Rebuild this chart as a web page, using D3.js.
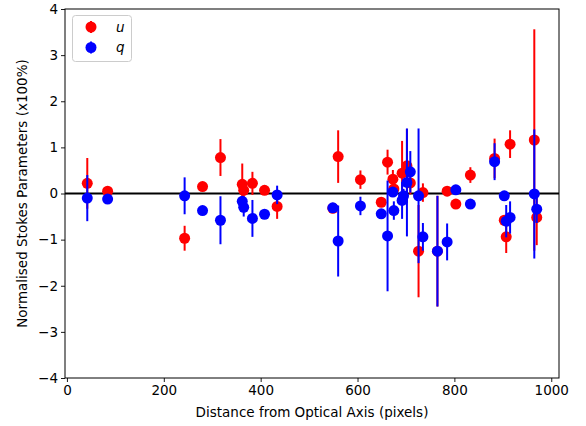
<!DOCTYPE html>
<html><head><meta charset="utf-8">
<script src="https://cdn.jsdelivr.net/npm/d3@7"></script>
<style>body{margin:0;background:#fff}svg{display:block}text{font-family:"DejaVu Sans",sans-serif}</style>
</head><body><svg id="c" width="586" height="426"></svg>
<script>
const distU = [42,84,243,280,317,362,365,383,408,434,549,560,606,649,662,673,675,692,702,709,726,735,765,785,803,833,883,903,907,915,965,970];
const uVals = [0.22,0.05,-0.97,0.15,0.78,0.2,0.07,0.22,0.07,-0.28,-0.32,0.8,0.3,-0.19,0.68,0.31,0.1,0.44,0.6,0.23,-1.25,0.02,-1.25,0.05,-0.23,0.4,0.76,-0.58,-0.94,1.07,1.16,-0.52];
const uErr = [0.55,0.05,0.27,0.05,0.4,0.45,0.2,0.25,0.05,0.27,0.1,0.57,0.2,0.05,0.27,0.2,0.1,0.7,0.8,0.25,1.0,0.2,1.2,0.05,0.05,0.17,0.43,0.1,0.35,0.3,2.4,0.6];
const distQ = [42,84,243,280,317,362,365,383,408,434,549,560,606,649,662,673,675,692,695,702,709,726,735,765,785,803,833,883,903,907,915,965,970];
const qVals = [-0.1,-0.12,-0.05,-0.37,-0.58,-0.17,-0.3,-0.54,-0.45,-0.03,-0.31,-1.03,-0.27,-0.44,-0.92,0.03,-0.37,-0.15,-0.05,0.24,0.47,-0.05,-0.94,-1.25,-1.05,0.08,-0.23,0.69,-0.05,-0.6,-0.52,-0.01,-0.34];
const qErr = [0.5,0.05,0.4,0.05,0.52,0.1,0.2,0.4,0.05,0.2,0.1,0.77,0.2,0.05,1.2,0.1,0.2,0.4,0.15,1.17,0.45,1.46,0.3,1.2,0.4,0.05,0.05,0.4,0.1,0.35,0.35,1.4,0.3];
const xTicks = [0,200,400,600,800,1000];
const yTicks = [-4,-3,-2,-1,0,1,2,3,4];
const seriesNames = ["u","q"];
const seriesColors = ["#ff0000","#0000ff"];

const svg = d3.select("#c");
const L=65, R=559, T=9, B=378;
const FS = 13.5;
const x = d3.scaleLinear().domain([-4,1016]).range([L,R]);
const y = d3.scaleLinear().domain([-4,4]).range([B,T]);

const fmt = d => d<0 ? "\u2212"+Math.abs(d) : String(d);
const xa = svg.append("g").attr("transform",`translate(0,${B})`)
  .call(d3.axisBottom(x).tickValues(xTicks).tickSize(4).tickPadding(3).tickFormat(fmt));
const ya = svg.append("g").attr("transform",`translate(${L},0)`)
  .call(d3.axisLeft(y).tickValues(yTicks).tickSize(4).tickPadding(3).tickFormat(fmt));
[xa,ya].forEach(a=>{a.select(".domain").remove();a.selectAll("text").attr("font-size",FS).attr("fill","#000").attr("font-family","DejaVu Sans");a.selectAll("line").attr("stroke","#000").attr("stroke-width",0.9);});

// zero line
svg.append("line").attr("x1",L).attr("x2",R).attr("y1",y(0)).attr("y2",y(0)).attr("stroke","#000").attr("stroke-width",1.8);

const series = [
  {d:distU,v:uVals,e:uErr,c:seriesColors[0]},
  {d:distQ,v:qVals,e:qErr,c:seriesColors[1]}
];
series.forEach(s=>{
  const g = svg.append("g");
  const data = s.d.map((d,i)=>({x:d,v:s.v[i],e:s.e[i]}));
  g.selectAll("line").data(data).join("line")
    .attr("x1",d=>x(d.x)).attr("x2",d=>x(d.x))
    .attr("y1",d=>y(d.v-d.e)).attr("y2",d=>y(d.v+d.e))
    .attr("stroke",s.c).attr("stroke-width",2);
  g.selectAll("circle").data(data).join("circle")
    .attr("cx",d=>x(d.x)).attr("cy",d=>y(d.v)).attr("r",5.5).attr("fill",s.c);
});

// frame
svg.append("rect").attr("x",L).attr("y",T).attr("width",R-L).attr("height",B-T)
  .attr("fill","none").attr("stroke","#000").attr("stroke-width",1);

// legend
const lg = svg.append("g");
lg.append("rect").attr("x",72.5).attr("y",15.5).attr("width",59).attr("height",46).attr("rx",3)
  .attr("fill","#fff").attr("fill-opacity",0.8).attr("stroke","#ccc").attr("stroke-width",1);
seriesNames.forEach((n,i)=>{
  const yy = 27+i*20.5;
  lg.append("line").attr("x1",91).attr("x2",91).attr("y1",yy-6).attr("y2",yy+6).attr("stroke",seriesColors[i]).attr("stroke-width",2);
  lg.append("circle").attr("cx",91).attr("cy",yy).attr("r",5.5).attr("fill",seriesColors[i]);
  lg.append("text").attr("x",116).attr("y",yy+4.5).attr("font-size",FS).attr("font-style","italic").text(n);
});

// axis labels
svg.append("text").attr("x",(L+R)/2).attr("y",417).attr("text-anchor","middle").attr("font-size",FS).text("Distance from Optical Axis (pixels)");
svg.append("text").attr("transform",`translate(27,${(T+B)/2}) rotate(-90)`).attr("text-anchor","middle").attr("font-size",FS).text("Normalised Stokes Parameters (x100%)");
</script></body></html>
